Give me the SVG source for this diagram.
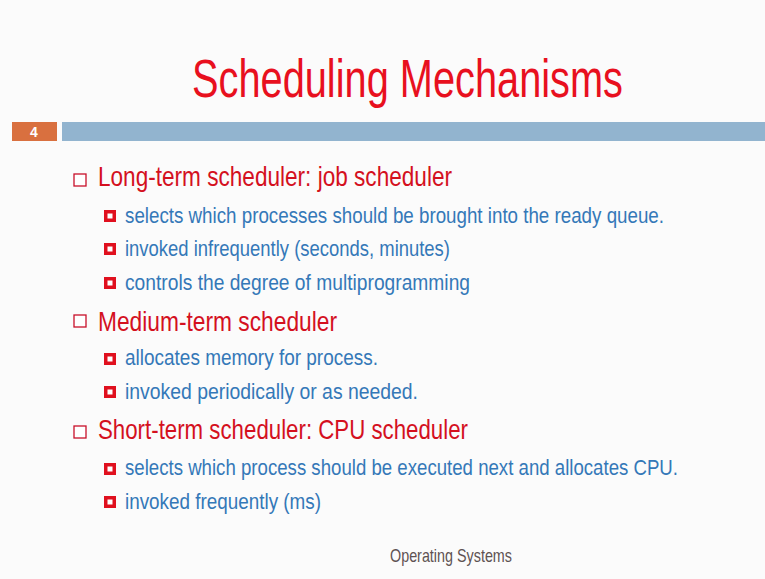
<svg xmlns="http://www.w3.org/2000/svg" width="765" height="579" viewBox="0 0 765 579">
<style>
.t{font-family:"Liberation Sans","DejaVu Sans",sans-serif;}
.title{font-size:53px;fill:#e8101e;}
.l1{font-size:28px;fill:#d4101e;}
.l2{font-size:22px;fill:#3478b8;}
.foot{font-size:19px;fill:#5e5252;}
.b1{fill:#ffffff;stroke:#c8102a;stroke-width:1.3;}
.b2o{fill:#e0101e;}
.b2i{fill:#ffffff;}
</style>
<defs>
<g id="sq2"><rect class="b2o" x="0" y="0" width="12" height="12"/><rect class="b2i" x="3.5" y="3.5" width="5" height="5"/></g>
<rect id="sq1" class="b1" x="0" y="0" width="12" height="12"/>
</defs>
<rect x="0" y="0" width="765" height="579" fill="#fbfbfb"/>
<g id="title"><text class="t title" x="192" y="97" textLength="431" lengthAdjust="spacingAndGlyphs">Scheduling Mechanisms</text></g>
<g id="header-bar">
<rect x="12" y="122" width="45" height="19" fill="#d9703f"/>
<text class="t" x="34" y="137" font-size="14" font-weight="bold" fill="#ffffff" text-anchor="middle">4</text>
<rect x="62" y="122" width="703" height="19" fill="#92b4cf"/>
</g>
<g id="long-term">
<use href="#sq1" x="74" y="174"/>
<text class="t l1" x="98" y="186" textLength="354" lengthAdjust="spacingAndGlyphs">Long-term scheduler: job scheduler</text>
<use href="#sq2" x="104" y="210"/>
<text class="t l2" x="125" y="223" textLength="539" lengthAdjust="spacingAndGlyphs">selects which processes should be brought into the ready queue.</text>
<use href="#sq2" x="104" y="243"/>
<text class="t l2" x="125" y="256" textLength="325" lengthAdjust="spacingAndGlyphs">invoked infrequently (seconds, minutes)</text>
<use href="#sq2" x="104" y="277"/>
<text class="t l2" x="125" y="290" textLength="345" lengthAdjust="spacingAndGlyphs">controls the degree of multiprogramming</text>
</g>
<g id="medium-term">
<use href="#sq1" x="74" y="315"/>
<text class="t l1" x="98" y="331" textLength="239" lengthAdjust="spacingAndGlyphs">Medium-term scheduler</text>
<use href="#sq2" x="104" y="353"/>
<text class="t l2" x="125" y="365" textLength="253" lengthAdjust="spacingAndGlyphs">allocates memory for process.</text>
<use href="#sq2" x="104" y="386"/>
<text class="t l2" x="125" y="399" textLength="293" lengthAdjust="spacingAndGlyphs">invoked periodically or as needed.</text>
</g>
<g id="short-term">
<use href="#sq1" x="74" y="426"/>
<text class="t l1" x="98" y="439" textLength="370" lengthAdjust="spacingAndGlyphs">Short-term scheduler: CPU scheduler</text>
<use href="#sq2" x="104" y="463"/>
<text class="t l2" x="125" y="475" textLength="553" lengthAdjust="spacingAndGlyphs">selects which process should be executed next and allocates CPU.</text>
<use href="#sq2" x="104" y="496"/>
<text class="t l2" x="125" y="509" textLength="196" lengthAdjust="spacingAndGlyphs">invoked frequently (ms)</text>
</g>
<g id="footer"><text class="t foot" x="390" y="562" textLength="122" lengthAdjust="spacingAndGlyphs">Operating Systems</text></g>
</svg>
